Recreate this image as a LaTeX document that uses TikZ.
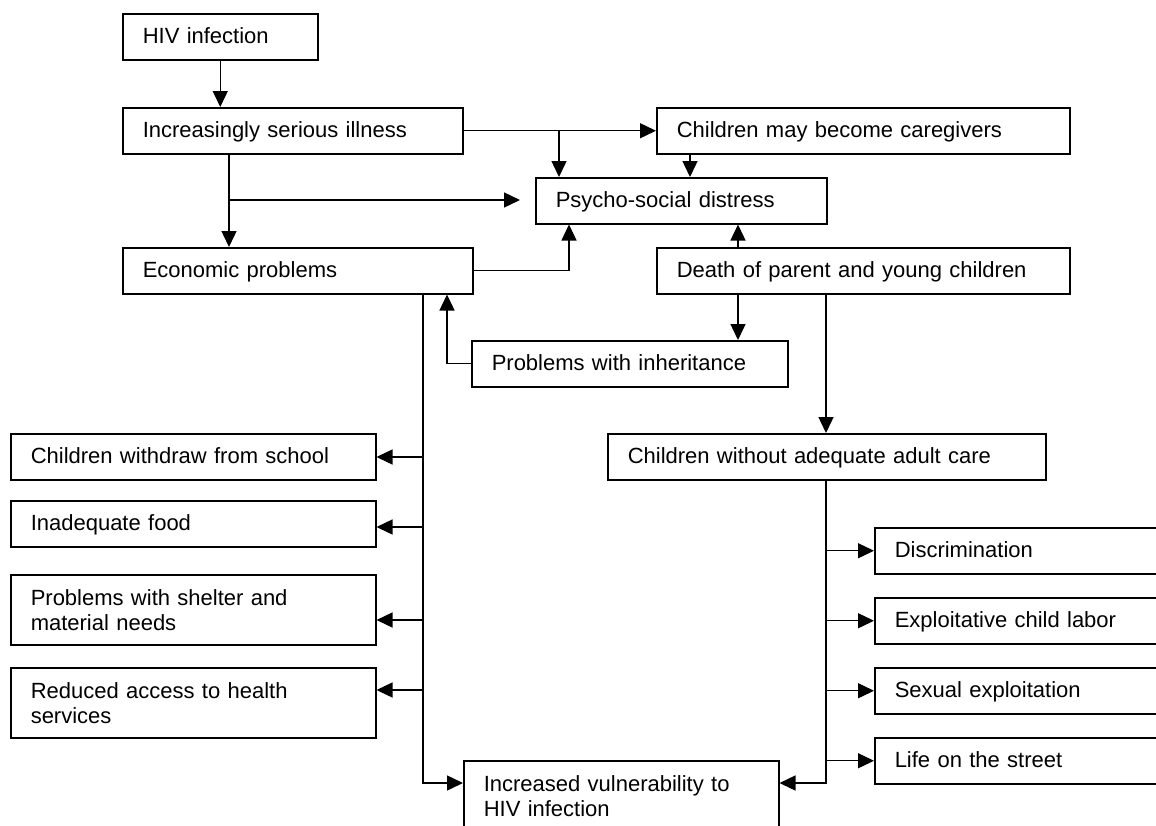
\documentclass[tikz,border=0pt]{standalone}
\usepackage{fontspec}
\setmainfont{Liberation Sans}
\usetikzlibrary{arrows.meta, positioning, calc}
\definecolor{ink}{HTML}{000000}

\begin{document}
\begin{tikzpicture}[
    x=0.5pt, y=-0.5pt,
    every node/.style={font=\fontsize{11pt}{12.5pt}\selectfont, text=ink},
    box/.style={draw=ink, line width=0.75pt, anchor=north west,
        inner xsep=10pt, inner ysep=0pt, align=left},
    one/.style={box, text height=8pt, text depth=1.25pt, minimum height=23pt},
    two/.style={box, minimum height=35pt},
    wire/.style={ink, line width=0.7pt},
    link/.style={wire, -{Triangle[length=8pt, width=7.5pt]}},
]

% page is 1156 x 825 units; boxes on the right and bottom run off it
\useasboundingbox (0,0) rectangle (1156,825);
\clip (0,0) rectangle (1156,825);
\fill[white] (0,0) rectangle (1156,825);

% ---------------------------------------------------------------- top
\node[one, text width=77.5pt]  (hiv)   at (122,13)  {HIV infection};
\node[one, text width=150pt]   (ill)   at (122,107) {Increasingly serious illness};
\node[one, text width=186.5pt] (care)  at (656,107) {Children may become caregivers};
\node[one, text width=125.5pt] (psy)   at (535,177) {Psycho-social distress};
\node[one, text width=155pt]   (econ)  at (122,247) {Economic problems};
\node[one, text width=186.5pt] (death) at (656,247) {Death of parent and young children};
\node[one, text width=138pt]   (inh)   at (471,340) {Problems with inheritance};
\node[one, text width=199pt]   (adult) at (607,433) {Children without adequate adult care};

% ---------------------------------------------------------------- left column
\node[one, text width=162.5pt] (school)  at (10,433) {Children withdraw from school};
\node[one, text width=162.5pt] (food)    at (10,500) {Inadequate food};
\node[two, text width=162.5pt] (shelter) at (10,574) {Problems with shelter and\\material needs};
\node[two, text width=162.5pt] (health)  at (10,667) {Reduced access to health\\services};
\node[two, text width=137.5pt] (vuln)    at (463,760) {Increased vulnerability to\\HIV infection};

% ---------------------------------------------------------------- right column
\node[one, text width=140pt] (disc)   at (874,527) {Discrimination};
\node[one, text width=140pt] (labor)  at (874,597) {Exploitative child labor};
\node[one, text width=140pt] (sexual) at (874,667) {Sexual exploitation};
\node[one, text width=140pt] (street) at (874,737) {Life on the street};

% ---------------------------------------------------------------- joints
\coordinate (illdown) at (229,153);
\coordinate (gap)     at (520,200);
\coordinate (b1)      at (559,130);
\coordinate (b2)      at (690,153);
\coordinate (b3)      at (569,270);
\coordinate (b4)      at (738,247);
\coordinate (b5)      at (447,363);
\coordinate (b6)      at (826,293);
\coordinate (t1)      at (423,293);
\coordinate (t2)      at (423,783);
\coordinate (t3)      at (826,783);

% ---------------------------------------------------------------- arrows
\draw[link] (hiv.south) -- (hiv.south |- ill.north);
\draw[link] (illdown) -- (illdown |- econ.north);
\draw[link] (illdown |- gap) -- (gap);
\draw[link] (ill.east) -- (care.west);
\draw[link] (b1) -- (b1 |- psy.north);
\draw[link] (b2) -- (b2 |- psy.north);
\draw[link] (econ.east) -| (b3 |- psy.south);
\draw[link] (b4) -- (b4 |- psy.south);
\draw[link] (b4 |- death.south) -- (b4 |- inh.north);
\draw[link] (inh.west) -| (b5 |- econ.south);
\draw[link] (b6) -- (b6 |- adult.north);

% economic problems fan out to the left
\draw[link] (t1) -- (t2) -- (t2 -| vuln.west);
\foreach \n/\y in {school/457, food/527, shelter/620, health/690}{
    \draw[link] (t1 |- 0,\y) -- (\n.east |- 0,\y);
}

% no adult care fans out to the right
\draw[link] (b6 |- adult.south) -- (t3) -- (t3 -| vuln.east);
\foreach \n in {disc, labor, sexual, street}{
    \draw[link] (b6 |- \n.west) -- (\n.west);
}

\end{tikzpicture}
\end{document}
